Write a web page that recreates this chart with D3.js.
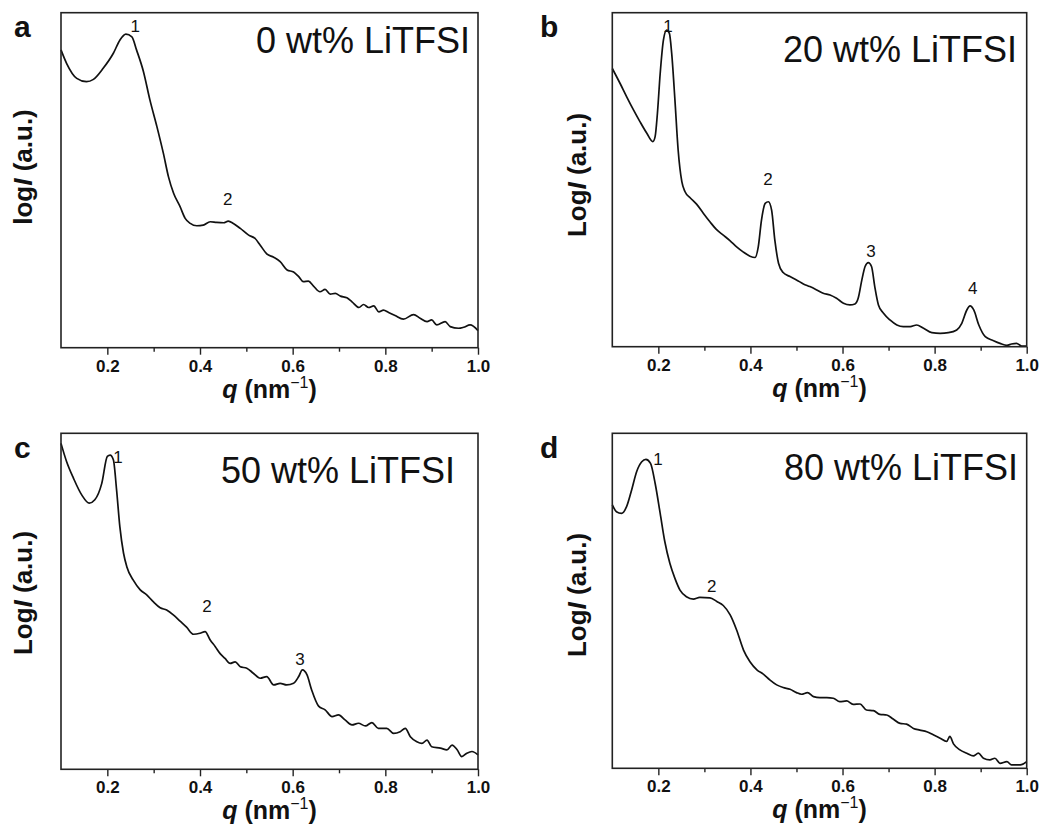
<!DOCTYPE html>
<html>
<head>
<meta charset="utf-8">
<script src="https://cdn.jsdelivr.net/npm/d3@7"></script>
<style>
  html, body { margin: 0; padding: 0; background: #fff; }
  svg { display: block; }
  text { font-family: "Liberation Sans", Arial, Helvetica, sans-serif; fill: #111; }
</style>
</head>
<body>
<svg id="chart" width="1045" height="839"></svg>
<script>
// ---------------- data (q in nm^-1, log I in arbitrary units 0..100) ----------------
const qA = [0.100,0.112,0.134,0.155,0.170,0.191,0.213,0.227,0.240,0.253,0.263,0.278,0.292,0.307,0.321,0.332,0.343,0.357,0.368,0.379,0.393,0.407,0.422,0.436,0.451,0.461,0.472,0.487,0.505,0.519,0.530,0.544,0.559,0.573,0.588,0.602,0.613,0.623,0.634,0.645,0.659,0.670,0.681,0.692,0.703,0.717,0.728,0.743,0.753,0.764,0.775,0.786,0.796,0.807,0.821,0.839,0.861,0.875,0.890,0.900,0.911,0.929,0.940,0.958,0.969,0.983,1.000];
const iA = [88.9,84.9,80.4,79.4,80.1,83.4,87.9,91.8,93.6,92.8,88.9,82.4,73.9,66.0,58.0,51.0,46.1,42.1,38.6,37.1,36.4,36.6,37.6,37.4,37.3,37.8,37.1,35.6,33.6,32.6,30.6,28.0,27.0,25.7,23.2,22.6,21.2,19.7,19.9,18.4,16.7,17.4,16.0,16.2,15.4,14.9,13.7,12.0,12.9,12.0,12.5,10.7,11.2,10.5,9.6,8.5,9.9,8.8,7.8,8.3,6.8,7.8,6.3,5.8,6.1,6.8,5.1];

const qB = [0.100,0.117,0.131,0.146,0.160,0.175,0.188,0.193,0.198,0.204,0.211,0.218,0.224,0.229,0.236,0.243,0.251,0.258,0.269,0.283,0.298,0.312,0.326,0.341,0.356,0.370,0.384,0.399,0.410,0.417,0.424,0.432,0.439,0.446,0.453,0.461,0.471,0.486,0.500,0.515,0.529,0.544,0.558,0.573,0.587,0.602,0.616,0.627,0.634,0.642,0.649,0.656,0.663,0.670,0.678,0.689,0.703,0.718,0.732,0.747,0.761,0.776,0.794,0.812,0.830,0.848,0.859,0.870,0.877,0.885,0.896,0.910,0.928,0.942,0.957,0.967,0.978,0.989,1.000];
const iB = [83.3,78.8,74.9,70.9,67.4,63.9,61.4,62.9,69.9,81.8,91.8,94.8,93.8,87.8,73.9,58.9,49.4,46.4,44.6,42.7,39.9,37.4,35.1,33.4,31.7,29.9,28.4,27.1,26.7,29.9,37.9,42.9,43.4,40.9,31.9,25.0,22.2,21.0,20.0,18.8,18.0,17.0,16.0,15.5,14.5,13.0,12.5,12.8,14.5,20.0,24.0,25.2,24.0,18.0,12.5,10.0,8.0,6.5,6.0,6.0,6.5,5.5,4.2,4.0,4.2,5.0,7.0,11.0,12.2,11.0,6.5,3.0,1.8,1.0,0.4,0.8,1.0,0.2,0.2];

const qC = [0.100,0.112,0.127,0.145,0.161,0.173,0.188,0.200,0.206,0.213,0.220,0.227,0.235,0.242,0.256,0.271,0.285,0.299,0.314,0.328,0.343,0.357,0.371,0.386,0.400,0.411,0.422,0.433,0.443,0.454,0.465,0.476,0.487,0.501,0.515,0.530,0.544,0.559,0.573,0.587,0.602,0.613,0.621,0.631,0.641,0.656,0.670,0.685,0.699,0.713,0.728,0.742,0.757,0.771,0.785,0.803,0.818,0.832,0.843,0.854,0.868,0.879,0.890,0.900,0.919,0.933,0.944,0.955,0.965,0.976,0.987,1.000];
const iC = [97.0,91.6,86.6,81.6,79.2,80.2,85.1,93.1,93.5,92.1,83.1,72.2,64.3,60.3,56.3,53.4,51.9,49.9,48.1,47.4,45.9,44.1,42.3,40.2,40.5,41.0,38.5,36.5,34.5,33.0,31.5,32.0,30.5,30.1,28.6,27.1,27.6,25.1,25.6,25.1,25.6,27.6,29.6,28.1,23.6,18.8,17.7,15.7,16.2,14.7,13.2,13.7,12.9,13.9,12.2,12.2,10.7,11.2,12.2,9.7,8.2,7.7,8.7,6.7,6.3,5.8,7.2,5.8,3.8,4.8,5.3,4.3];

const qD = [0.100,0.109,0.120,0.131,0.142,0.153,0.164,0.173,0.183,0.193,0.204,0.214,0.225,0.236,0.247,0.261,0.276,0.290,0.312,0.327,0.341,0.356,0.370,0.385,0.399,0.414,0.428,0.442,0.457,0.471,0.486,0.500,0.511,0.524,0.537,0.551,0.566,0.580,0.594,0.609,0.623,0.638,0.652,0.667,0.681,0.696,0.710,0.725,0.739,0.754,0.768,0.783,0.797,0.812,0.826,0.833,0.841,0.855,0.870,0.884,0.895,0.906,0.920,0.931,0.942,0.957,0.967,0.986,1.000];
const iD = [78.6,76.6,76.1,78.1,83.1,88.6,91.5,92.2,91.0,85.1,76.1,67.7,61.2,56.7,53.2,51.2,50.5,51.0,50.9,49.8,48.6,45.8,41.3,35.3,31.8,29.4,28.1,26.4,24.9,24.1,23.6,22.6,22.1,22.6,21.4,21.1,21.1,20.9,19.9,20.1,19.1,19.2,17.4,17.2,16.1,15.9,14.7,13.4,13.2,11.9,11.4,10.9,10.0,9.0,8.0,9.5,7.3,5.5,4.5,3.7,4.5,3.0,2.5,3.0,1.5,2.0,1.0,1.0,2.0];

// peak labels: text, q, logI
const peakNames  = { a: ["1","2"], b: ["1","2","3","4"], c: ["1","2","3"], d: ["1","2"] };
const peakQ      = { a: [0.260,0.460], b: [0.221,0.438,0.662,0.883], c: [0.223,0.415,0.616], d: [0.199,0.316] };
const peakI      = { a: [94.2,42.6], b: [94.2,48.4,26.9,15.8], c: [91.2,46.8,31.0], d: [90.5,52.6] };

const panelLetters = ["a","b","c","d"];
const sampleLabels = ["0 wt% LiTFSI","20 wt% LiTFSI","50 wt% LiTFSI","80 wt% LiTFSI"];
const yTitlePrefix = ["log","Log","Log","Log"];
const xMajorTicks = [0.2,0.4,0.6,0.8,1.0];
const xMinorTicks = [0.3,0.5,0.7,0.9];
const qDomain = [0.1, 1.0];
const iDomain = [0, 100];

// ---------------- layout ----------------
const panels = [
  { key:"a", q:qA, I:iA, x:61,    y:12.7,  w:417,   h:335, letterX:14,  letterY:37,  labelRight:470,  labelBase:53,  yTitleX:23,  yTitleY:167 },
  { key:"b", q:qB, I:iB, x:612.3, y:12.7,  w:414.4, h:334, letterX:540, letterY:37,  labelRight:1017, labelBase:62,  yTitleX:577, yTitleY:175 },
  { key:"c", q:qC, I:iC, x:61,    y:433.3, w:417,   h:336, letterX:14,  letterY:458, labelRight:455,  labelBase:483, yTitleX:23,  yTitleY:593 },
  { key:"d", q:qD, I:iD, x:612.3, y:433.3, w:414.4, h:335, letterX:540, letterY:458, labelRight:1018, labelBase:480, yTitleX:577, yTitleY:595 }
];

const svg = d3.select("#chart");

panels.forEach((p, idx) => {
  const g = svg.append("g").attr("transform", `translate(${p.x},${p.y})`);
  const x = d3.scaleLinear().domain(qDomain).range([0, p.w]);
  const y = d3.scaleLinear().domain(iDomain).range([p.h, 0]);

  // curve
  const pts = p.q.map((q, i) => [q, p.I[i]]);
  g.append("path")
    .datum(pts)
    .attr("fill", "none")
    .attr("stroke", "#111")
    .attr("stroke-width", 1.7)
    .attr("stroke-linejoin", "round")
    .attr("d", d3.line().x(d => x(d[0])).y(d => y(d[1])).curve(d3.curveMonotoneX));

  // minor ticks
  const minor = g.append("g").attr("transform", `translate(0,${p.h})`)
    .call(d3.axisBottom(x).tickValues(xMinorTicks).tickSize(4).tickFormat(""));
  minor.select(".domain").remove();
  minor.selectAll("line").attr("stroke", "#222").attr("stroke-width", 1.4);

  // major ticks
  const major = g.append("g").attr("transform", `translate(0,${p.h})`)
    .call(d3.axisBottom(x).tickValues(xMajorTicks).tickSize(7).tickPadding(5).tickFormat(d3.format(".1f")));
  major.select(".domain").remove();
  major.selectAll("line").attr("stroke", "#222").attr("stroke-width", 1.4);
  major.selectAll("text")
    .attr("font-size", 17).attr("font-weight", "bold")
    .attr("font-family", "'Liberation Sans', Arial, sans-serif").attr("fill", "#111");

  // frame
  g.append("rect").attr("x", 0).attr("y", 0).attr("width", p.w).attr("height", p.h)
    .attr("fill", "none").attr("stroke", "#222").attr("stroke-width", 1.6);

  // peak labels
  peakNames[p.key].forEach((n, i) => {
    g.append("text")
      .attr("x", x(peakQ[p.key][i])).attr("y", y(peakI[p.key][i]))
      .attr("text-anchor", "middle").attr("font-size", 17)
      .text(n);
  });

  // sample annotation
  svg.append("text")
    .attr("x", p.labelRight).attr("y", p.labelBase)
    .attr("text-anchor", "end").attr("font-size", 36)
    .text(sampleLabels[idx]);

  // panel letter
  svg.append("text")
    .attr("x", p.letterX).attr("y", p.letterY)
    .attr("font-size", 30).attr("font-weight", "bold")
    .text(panelLetters[idx]);

  // x title
  const xt = svg.append("text")
    .attr("x", p.x + p.w / 2).attr("y", p.y + p.h + 50)
    .attr("text-anchor", "middle").attr("font-size", 25).attr("font-weight", "bold");
  xt.append("tspan").attr("font-style", "italic").text("q");
  xt.append("tspan").text(" (nm");
  xt.append("tspan").attr("font-size", 16).attr("font-weight", "normal").attr("dy", -10).text("\u22121");
  xt.append("tspan").attr("dy", 10).text(")");

  // y title
  const yt = svg.append("text")
    .attr("transform", `translate(${p.yTitleX},${p.yTitleY}) rotate(-90)`)
    .attr("text-anchor", "middle").attr("dy", "0.35em")
    .attr("font-size", 26).attr("font-weight", "bold");
  yt.append("tspan").text(yTitlePrefix[idx]);
  yt.append("tspan").attr("font-style", "italic").text("I");
  yt.append("tspan").text(" (a.u.)");
});
</script>
</body>
</html>
